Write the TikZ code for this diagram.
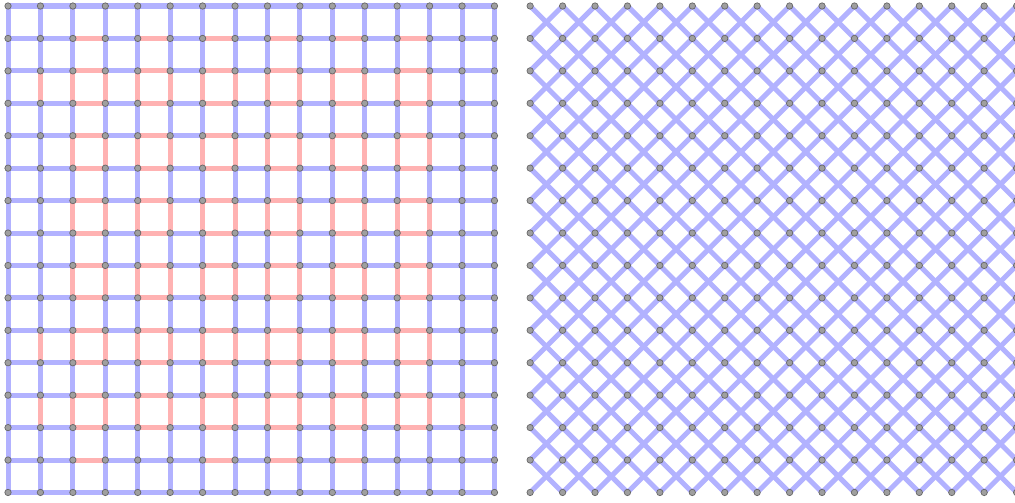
\documentclass[tikz,border=0pt]{standalone}
\usetikzlibrary{backgrounds}

\colorlet{bcol}{blue!30}
\colorlet{rcol}{red!30}

\begin{document}
\begin{tikzpicture}[x=1cm, y=1cm,
          site/.style={circle, draw=black!60, fill=gray!75, line width=0.6pt,
                       inner sep=0, minimum size=5.6pt},
          bond/.style={draw=bcol, line width=4.4pt},
          rbond/.style={draw=rcol, line width=4.4pt}
        ]
        \useasboundingbox (-0.247,0.185) rectangle (31.05,-15.295);

        % ---- left lattice: sites (column, row counted from top) ----
        \foreach \col in {0,...,15}
          \foreach \row in {0,...,15}
            \node[site] (L-\col-\row) at (\col,-\row) {};

        % ---- right lattice: sites ----
        \foreach \col in {0,...,15}
          \foreach \row in {0,...,15}
            \node[site] (R-\col-\row) at (16.1+\col,-\row) {};

        \begin{scope}[on background layer]
          % ---- left: blue square bonds ----
          \foreach \col in {0,...,15} {
            \foreach \row in {0,...,14} {
              \pgfmathtruncatemacro{\nxt}{\row+1}
              \draw[bond] (L-\col-\row.center) -- (L-\col-\nxt.center);
              \draw[bond] (L-\row-\col.center) -- (L-\nxt-\col.center);
            }
          }

          % ---- left: red horizontal bonds ----
          \foreach \row in {1,...,13} {
            \foreach \col in {2,4,...,12} {
              \pgfmathtruncatemacro{\nxt}{\col+1}
              \draw[rbond] (L-\col-\row.center) -- (L-\nxt-\row.center);
            }
          }
          \foreach \col in {2,6,8,10} {
            \pgfmathtruncatemacro{\nxt}{\col+1}
            \draw[rbond] (L-\col-14.center) -- (L-\nxt-14.center);
          }

          % ---- left: red vertical bonds ----
          \foreach \row in {2,4,...,12} {
            \foreach \col in {2,...,13} {
              \pgfmathtruncatemacro{\nxt}{\row+1}
              \draw[rbond] (L-\col-\row.center) -- (L-\col-\nxt.center);
            }
          }
          \foreach \col/\row in {1/2,1/10,1/12,14/12} {
            \pgfmathtruncatemacro{\nxt}{\row+1}
            \draw[rbond] (L-\col-\row.center) -- (L-\col-\nxt.center);
          }

          % ---- right: both diagonals of every cell ----
          \foreach \col in {0,...,14} {
            \foreach \row in {0,...,14} {
              \pgfmathtruncatemacro{\nc}{\col+1}
              \pgfmathtruncatemacro{\nr}{\row+1}
              \draw[bond] (R-\col-\row.center) -- (R-\nc-\nr.center);
              \draw[bond] (R-\nc-\row.center) -- (R-\col-\nr.center);
            }
          }
        \end{scope}

      \end{tikzpicture}
\end{document}
